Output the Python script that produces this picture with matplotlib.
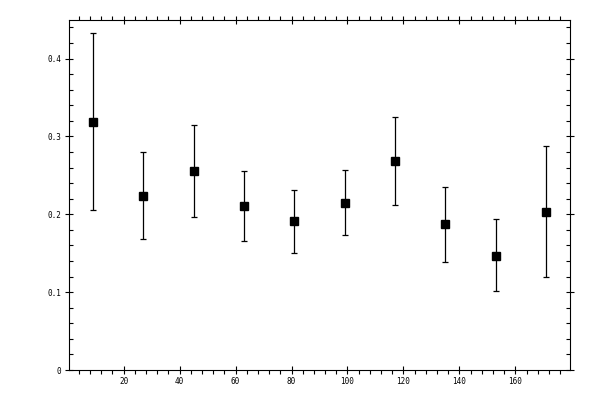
import matplotlib
matplotlib.use("Agg")
import matplotlib.pyplot as plt
from matplotlib.ticker import MultipleLocator, FuncFormatter

# data (x, value, lower bound, upper bound)
x = [9, 27, 45, 63, 81, 99, 117, 135, 153, 171]
y = [0.319, 0.224, 0.256, 0.210, 0.191, 0.215, 0.269, 0.187, 0.147, 0.203]
y_low = [0.206, 0.168, 0.196, 0.166, 0.150, 0.173, 0.212, 0.139, 0.101, 0.119]
y_high = [0.433, 0.280, 0.315, 0.255, 0.231, 0.257, 0.325, 0.235, 0.194, 0.288]

err_lo = [v - lo for v, lo in zip(y, y_low)]
err_hi = [hi - v for v, hi in zip(y, y_high)]

plt.rcParams['font.family'] = ['DejaVu Sans Mono']

fig = plt.figure(figsize=(6, 4), dpi=100)
ax = fig.add_axes([0.115, 0.075, 0.835, 0.876])

ax.errorbar(x, y, yerr=[err_lo, err_hi], fmt='s', color='black',
            ecolor='black', markersize=5.5, elinewidth=0.9, capsize=2.2,
            capthick=0.9)

ax.set_xlim(0.5, 179.5)
ax.set_ylim(0, 0.45)

ax.xaxis.set_major_locator(MultipleLocator(20))
ax.xaxis.set_minor_locator(MultipleLocator(4))
ax.yaxis.set_major_locator(MultipleLocator(0.1))
ax.yaxis.set_minor_locator(MultipleLocator(0.02))
ax.yaxis.set_major_formatter(FuncFormatter(lambda v, p: '%g' % round(v, 2)))

ax.tick_params(which='major', direction='inout', length=5.8, width=0.8,
               top=True, right=True, labelsize=5.5, pad=2.5)
ax.tick_params(axis='x', which='minor', direction='out', length=2.9,
               width=0.8, top=True, bottom=True)
ax.tick_params(axis='y', which='minor', direction='in', length=2.9,
               width=0.8, left=True, right=True)

for s in ax.spines.values():
    s.set_linewidth(0.8)

fig.savefig('out.png', dpi=100)
